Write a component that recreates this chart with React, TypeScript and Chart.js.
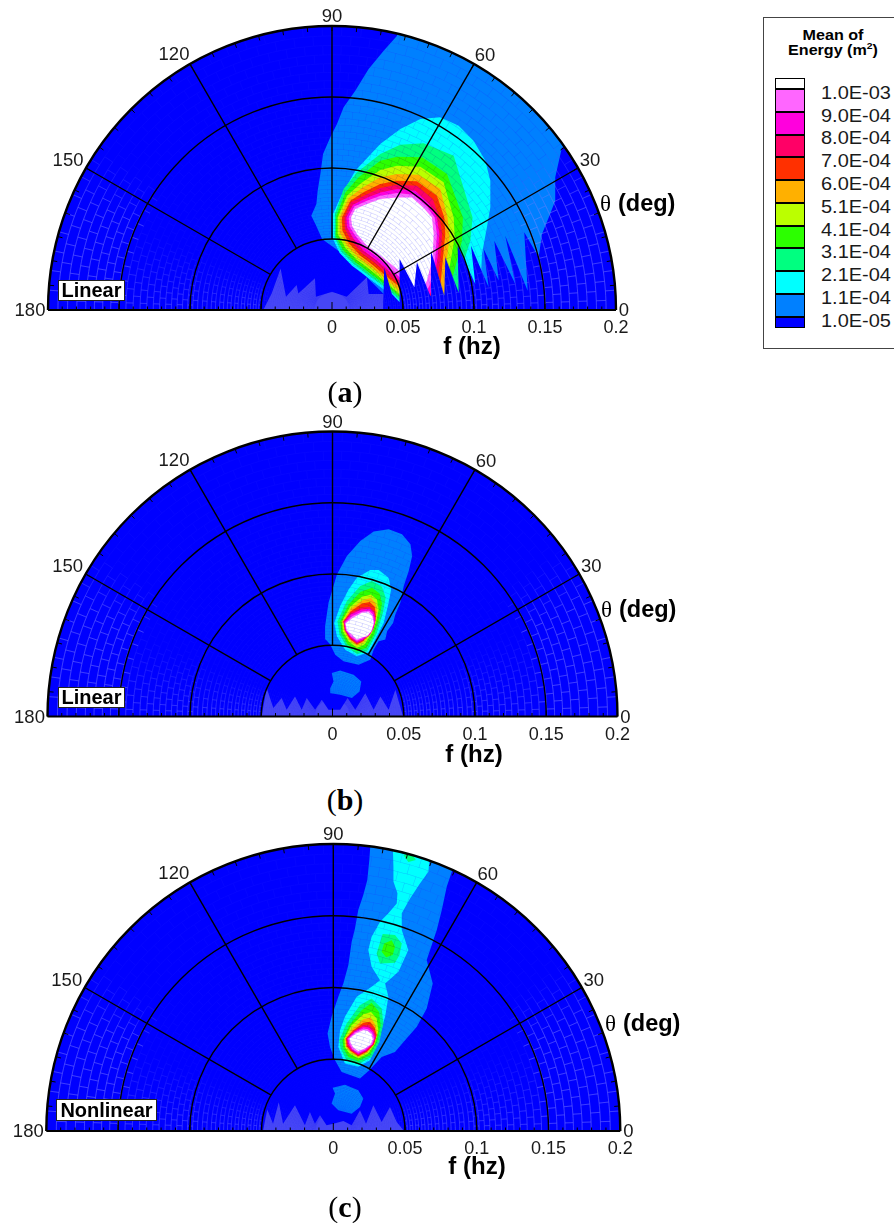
import React, { useEffect, useRef } from "react";
import { Chart, registerables } from "chart.js";

Chart.register(...registerables);

type P = [number, number];

// Contour outlines: [fx, fy] in mHz (fx = f cos(theta), fy = f sin(theta))
const levelColors = ["#0000ff", "#0080ff", "#00ffff", "#00ff80", "#2cff00", "#bbff00", "#ffb000", "#ff3000", "#ff0066", "#ff00dd", "#ff66ff", "#ffffff"];
const legendLabels = ["1.0E-03", "9.0E-04", "8.0E-04", "7.0E-04", "6.0E-04", "5.1E-04", "4.1E-04", "3.1E-04", "2.1E-04", "1.1E-04", "1.0E-05"];
const fTickLabels = ["0", "0.05", "0.1", "0.15", "0.2"];
const angleLabels = ["0", "30", "60", "90", "120", "150", "180"];

const aFringe: P[] = [[-48.4,0],[-42.5,11.7],[-36.2,29.3],[-32.4,9.4],[-24.9,17.6],[-23.7,11.7],[-12,22.3],[-11.3,9.4],[0,12.9],[10.3,9.4],[24.6,23],[25.8,11.3],[36.4,11.3],[41,6.6],[49.8,0]];
const aL1: P[] = [[45.8,193.2],[36.4,182.6],[25.8,169.7],[16.4,154.4],[8.2,142.7],[3.5,131],[-1.2,121.6],[-6.3,109.8],[-8.2,95.8],[-10.1,84],[-11,74.6],[-14.6,66.4],[-11.7,60.6],[-7,50],[5.9,40.6],[16.4,31.2],[25.8,21.8],[36.4,11.3],[48.1,5.4],[57.5,0],[205,0],[205,210],[46,210]];
const aL2: P[] = [[0.7,67.6],[5.9,79.3],[16.4,98.1],[34,116.9],[48.1,127.4],[62.2,134.5],[76.3,135.7],[89.2,129.8],[99.7,119.2],[108,105.1],[111.5,91.1],[111.5,72.3],[109.1,58.2],[105.6,39.4],[104.4,11.3],[49.8,3.1],[43.9,8.4],[35.9,14.8],[23.5,24.2],[14.1,31.2],[5.4,40.1],[0.7,50]];
const aL3: P[] = [[2.1,67.6],[8.2,85.2],[17.6,96.9],[34,109.8],[48.1,116.4],[64.5,117.4],[85.7,108.7],[99,65.2],[97.4,48.8],[91.5,30],[90.4,11.3],[49.3,5.4],[44.6,10.1],[36.8,16.4],[24.6,25.3],[15.3,32.4],[6.3,41.3],[1.9,51.2]];
const aL4: P[] = [[3.1,66.4],[9.4,82.8],[18.8,93.4],[34,105.1],[45.8,108],[63.4,107.5],[81,95.8],[92.2,65.2],[91.5,48.8],[86.8,30],[81,8.9],[50.5,6.6],[45.3,11.3],[37.8,17.8],[25.8,26.5],[16.4,33.6],[7.7,42.2],[2.6,52.3]];
const aL5: P[] = [[4,65.2],[10.6,80.5],[20.4,89.2],[34,98.6],[45.8,101.6],[62.2,100.9],[78.6,89.9],[85.7,65.2],[86.4,51.2],[82.8,30],[79.1,10.1],[51.6,6.6],[46.2,12.4],[38.7,18.8],[27,28.2],[17.6,35.2],[9.4,43.7],[4,53.5]];
const aL6: P[] = [[5.4,65.2],[11.7,78.9],[21.8,86.4],[34,93.4],[45.8,95.8],[61,95.3],[76.3,85.2],[81.4,65.2],[82.8,51.2],[80.5,32.4],[79.1,10.1],[52.8,6.6],[47.2,13.6],[39.7,20.2],[28.2,29.6],[18.8,36.6],[10.6,45.3],[5.4,54.7]];
const aL7: P[] = [[7,65.2],[12.9,77],[22.8,83.3],[34,88.7],[45.8,91.1],[59.8,90.6],[73.9,80.5],[79.1,65.2],[79.8,53.5],[78.2,37.1],[76.3,16],[69.2,6.6],[54,7.7],[48.1,16],[40.6,21.8],[29.3,31.2],[19.9,38.3],[12,46.9],[7.3,55.9]];
const aL8: P[] = [[8.7,65.2],[13.4,75.8],[23.5,81],[34,85.9],[45.8,88.2],[59.8,87.5],[70.9,78.2],[75.8,65.2],[77.5,53.5],[76.3,37.1],[73.9,16],[69.2,6.6],[55.2,8.9],[49.3,17.1],[41.5,23],[30.5,32.9],[21.1,39.9],[13.4,48.8],[9.2,57]];
const aL9: P[] = [[10.1,65.2],[14.8,74.2],[24.2,78.9],[34,82.8],[45.8,85.2],[58.7,84],[68.5,74.6],[73.9,65.2],[75.6,53.5],[74.4,37.1],[71.1,16],[68.1,8.9],[56.3,11.3],[50.5,18.3],[43,24.9],[31.7,34.7],[22.3,41.8],[14.8,50.7],[10.6,58.2]];
const aL10: P[] = [[11.7,65.2],[15.7,72.8],[24.6,77],[34,80.5],[45.8,82.4],[57.5,81.2],[66.9,72.8],[72.3,65.2],[73.9,53.5],[72.8,37.1],[69.2,18.3],[64.5,8.9],[56.3,13.6],[51.6,19.5],[43.9,26.5],[32.9,36.6],[23.5,43.7],[16.4,52.3],[12.4,58.7]];
const aL11: P[] = [[13.4,65.2],[16.4,71.1],[24.6,74.6],[34,78.2],[45.8,79.3],[56.3,79.3],[64.5,71.8],[70.4,65.2],[71.6,53.5],[70.9,37.1],[66.9,20.7],[62.2,11.3],[57.5,16],[54,21.8],[45.8,28.9],[34,38.3],[24.6,45.3],[17.6,53.5],[14.1,59.4]];
const aNotch: P[] = [[35.9,0],[36.8,30],[42.2,11.3],[47.6,5.4],[47.6,35.9],[58,16],[59.8,33.6],[69.2,10.1],[69.7,41.8],[79.1,10.1],[79.8,37.1],[89.2,12.4],[88.5,45.3],[100.9,18.3],[97.9,45.3],[110.3,16],[106.8,43],[117.4,20.7],[114.3,48.8],[129.1,18.3],[122,52.3],[137.8,13.6],[135.4,54.7],[145.5,37.1],[147.9,53.5],[152.6,65.2],[157.2,77],[157.2,93.4],[161.9,114.5],[205,114.5],[205,0]];

const bFringe: P[] = [[-49.8,0],[-46.2,20],[-41.5,5.9],[-35.7,12.9],[-32.2,4.7],[-26.3,14.1],[-21.6,4.7],[-18.1,12.9],[-12.2,4.7],[-7.5,11.7],[-2.8,4.7],[5.4,4.7],[10.6,12.9],[16,4.7],[23,16.4],[28.9,4.7],[33.6,14.1],[39.4,4.7],[44.1,18.8],[49.5,0]];
const bL1: P[] = [[-4.7,54],[-5.2,63.4],[-2.8,79.8],[3.1,99.7],[10.1,112.7],[19.5,123.2],[28.9,129.8],[39.4,131.4],[48.8,127.9],[54.7,120.9],[55.9,112.7],[53.5,102.1],[50,91.5],[47.6,79.8],[44.1,71.6],[42.5,65.7],[38.3,59.8],[37.1,54],[32.4,52.8],[28.9,46.9],[26.5,39.9],[18.3,36.4],[7.7,38.7],[1.9,43.4],[-1.6,50.5]];
const bBlob: P[] = [[-0.5,30.5],[5.4,32.2],[14.8,29.3],[20.2,24.6],[19,17.6],[13.6,12.9],[5.4,15.3],[-1.2,16.4],[-1.6,19.9],[0.7,24.6]];
const bL2: P[] = [[1.2,65.7],[5.4,77.5],[11.3,89.2],[17.1,97.4],[26.5,102.8],[32.4,102.8],[39.4,97.4],[41.1,89.2],[39.4,79.8],[35.9,65.7],[31.2,56.3],[25.3,45.1],[17.1,42.2],[8.9,46.9],[3.1,56.3]];
const bL3: P[] = [[3.5,66.9],[10.1,81],[19.5,91.5],[27.7,95.1],[34.7,91.1],[37.3,83.3],[35.4,72.8],[31.2,58.7],[24.2,45.8],[17.1,43.9],[10.1,48.8],[4.9,57.5]];
const bL4: P[] = [[5.4,66.9],[11.3,78.6],[19.5,87.3],[27.7,90.4],[33.1,86.4],[34.7,79.3],[33.1,69.9],[29.3,57.5],[23.7,48.1],[17.1,45.8],[10.6,50.5],[6.1,58.7]];
const bL5: P[] = [[6.6,66.9],[12.4,77],[20.7,84],[27,85.7],[31.2,82.1],[32.4,75.1],[30.7,66.9],[27.7,58.7],[22.5,50.5],[17.1,48.1],[11.3,52.8],[7.3,59.8]];
const bL6: P[] = [[7.3,66.9],[12.9,75.6],[21.4,81.7],[27,83.1],[30.3,79.3],[31.2,73.9],[29.8,65.7],[27,58.7],[21.8,52.1],[17.1,49.8],[11.7,54],[8.2,60.6]];
const bL7: P[] = [[7.8,66.9],[12.9,73.9],[20.7,79.3],[26.1,80.3],[29.6,77],[30.5,70.4],[28.9,64.5],[26.5,58.7],[21.4,52.8],[17.1,50.5],[12,54.5],[8.7,60.6]];
const bL8: P[] = [[7.8,66.9],[12.9,72.8],[20.2,76.3],[26.1,77],[29.3,73.9],[30.3,68.1],[28.9,62.2],[26.1,57.5],[21.4,53.5],[17.1,51.2],[12,55.2],[8.7,60.6]];
const bL9: P[] = [[8.2,66.2],[12.9,71.6],[20.2,75.1],[26.1,75.6],[29.1,72.8],[30,66.9],[28.4,61],[25.6,56.8],[21.4,54],[17.1,52.1],[12.4,55.9],[9.2,60.6]];
const bL10: P[] = [[8.7,65.7],[13.6,70.4],[20.7,73.7],[25.8,74.2],[28.4,71.6],[29.3,66.2],[27.7,60.6],[24.9,56.8],[21.1,54.9],[17.1,53.1],[12.9,56.3],[9.6,60.6]];
const bL11: P[] = [[9.2,65.2],[14.1,69.2],[20.7,72.8],[25.3,73.2],[27.9,70.4],[28.9,65.2],[27.2,59.8],[24.2,56.3],[20.7,55.6],[17.1,54],[13.6,57.5],[10.1,60.6]];

const cFringe: P[] = [[-49,0],[-46,15],[-42,5],[-38,20],[-35,5],[-26.7,17.9],[-19.8,4],[-16.3,13.3],[-12.8,5.1],[-9.3,10.9],[-4.7,4],[0,5.1],[7,7],[12.8,4],[18.6,14.4],[22.8,5.1],[27.9,17.9],[33.7,6.3],[39.5,16.7],[44.2,6.3],[49.3,0]];
const cL1: P[] = [[26.1,202.8],[25.1,188.9],[23.7,174.9],[20.9,164.5],[17.4,154],[15.1,141.2],[12.8,131.9],[10.5,115.6],[7,102.8],[3.5,93.5],[-1.2,79.6],[-4,67.9],[-2.3,58.6],[1.2,49.3],[5.8,41.2],[18.6,36.5],[25.1,42.3],[33.7,51.6],[43,55.1],[50,63.3],[58.2,72.6],[65.1,85.4],[69.3,102.8],[65.1,119.1],[72.1,140],[75.6,154],[79.1,170.3],[82.6,180.7],[86.1,188.9]];
const cBlob: P[] = [[-0.5,30.2],[8.1,32.3],[17.4,28.4],[20.9,22.6],[18.6,16.7],[12.8,12.1],[3.5,14.4],[-1.2,19.1],[1.2,26.1]];
const cL2: P[] = [[41.4,200.5],[41.9,184.2],[41.9,173.8],[44.7,165.6],[44.2,158.6],[38.4,151.7],[32.6,145.8],[26.7,135.4],[24.4,126.1],[26.7,114.4],[32.6,105.1],[26.7,100.5],[16.3,93.5],[8.1,79.6],[4.7,70.2],[3.5,58.6],[8.1,47],[17.4,44.7],[25.6,49.3],[30.2,60.9],[36.1,79.6],[38.4,93.5],[36.1,102.8],[45.4,111],[52.3,126.1],[47.7,140],[47.7,151.7],[53.5,162.1],[60.5,172.6],[66.3,180.7],[67.5,195.8]];
const cTopL3: P[] = [[48.8,192.4],[54.7,193.5],[57.5,188.9],[52.3,187.5]];
const cMidL3: P[] = [[30.2,123.7],[34.4,137.2],[43,136.5],[47.7,130.7],[46.1,122.6],[43,117.2],[32.6,116.8]];
const cMidL4: P[] = [[35.4,130.7],[40.7,133],[43,128.4],[41.4,122.6],[36.8,121],[33.7,124.9]];
const cL3: P[] = [[4.2,63.3],[9.3,74.9],[18.6,87.7],[26.7,92.3],[33.7,85.4],[34.9,74.9],[32.1,62.1],[26.7,51.6],[17.4,46.5],[9.3,49.3],[5.1,57.5]];
const cL4: P[] = [[6.5,63.3],[11.2,73.7],[19.8,84.2],[26.7,89.3],[31.9,83],[33,73.7],[30.7,62.6],[25.6,52.8],[17.4,48.8],[10.5,51.6],[7,57.5]];
const cL5: P[] = [[7.7,64.4],[12.8,73.7],[20.9,81.4],[26.3,83],[30.2,78.4],[31.4,70.2],[29.1,60.9],[24.4,54],[17.4,50.5],[11.2,54],[8.1,58.6]];
const cL6: P[] = [[8.4,64.4],[13.5,71.4],[20.9,77.9],[26.1,79.1],[29.1,74.4],[30.5,67.9],[28.6,60.9],[23.7,54.9],[17.4,51.6],[11.6,55.4],[8.8,59.1]];
const cL7: P[] = [[8.8,64.4],[14,70.2],[20.9,75.4],[25.6,76.1],[28.8,72.1],[30.2,66.8],[28.4,60.5],[23.7,55.4],[17.4,52.1],[12.1,55.8],[9.3,59.1]];
const cL8: P[] = [[9.3,64.4],[14.4,69.8],[20.9,73.7],[25.1,73.7],[28.4,70.2],[29.8,65.6],[27.9,60.5],[23.3,55.8],[17.4,52.8],[12.3,56.3],[9.8,59.8]];
const cL9: P[] = [[9.8,64.4],[14.9,69.3],[20.9,72.6],[24.7,72.1],[27.9,69.1],[29.1,65.1],[27.4,60.5],[22.8,56.3],[17.4,53.5],[12.8,56.8],[10.5,60.5]];
const cL10: P[] = [[10.5,64.4],[15.4,68.9],[20.9,71.4],[24.2,70.9],[27.2,68.4],[28.4,64.4],[27,60.5],[22.3,56.8],[17.4,54.4],[13.3,57.2],[11.2,60.9]];
const cL11: P[] = [[11.4,64.4],[15.8,67.9],[20.9,70.2],[23.7,69.8],[26.5,67.5],[27.4,64],[26.1,60.5],[21.9,57.5],[17.4,55.8],[14,58.2],[12.1,61.4]];

type Layer = { color: number; fill?: string; pts: P[] };
const FRINGE = "#4646f6";

const panelALayers: Layer[] = [
  { color: 0, fill: FRINGE, pts: aFringe }, { color: 1, pts: aL1 }, { color: 2, pts: aL2 }, { color: 3, pts: aL3 }, { color: 4, pts: aL4 }, { color: 5, pts: aL5 },
  { color: 6, pts: aL6 }, { color: 7, pts: aL7 }, { color: 8, pts: aL8 }, { color: 9, pts: aL9 }, { color: 10, pts: aL10 }, { color: 11, pts: aL11 }, { color: 0, pts: aNotch },
];
const panelBLayers: Layer[] = [
  { color: 0, fill: FRINGE, pts: bFringe }, { color: 1, pts: bL1 }, { color: 1, pts: bBlob }, { color: 2, pts: bL2 }, { color: 3, pts: bL3 }, { color: 4, pts: bL4 }, { color: 5, pts: bL5 },
  { color: 6, pts: bL6 }, { color: 7, pts: bL7 }, { color: 8, pts: bL8 }, { color: 9, pts: bL9 }, { color: 10, pts: bL10 }, { color: 11, pts: bL11 },
];
const panelCLayers: Layer[] = [
  { color: 0, fill: FRINGE, pts: cFringe }, { color: 1, pts: cL1 }, { color: 1, pts: cBlob }, { color: 2, pts: cL2 }, { color: 3, pts: cTopL3 }, { color: 3, pts: cMidL3 }, { color: 4, pts: cMidL4 },
  { color: 3, pts: cL3 }, { color: 4, pts: cL4 }, { color: 5, pts: cL5 }, { color: 6, pts: cL6 }, { color: 7, pts: cL7 }, { color: 8, pts: cL8 }, { color: 9, pts: cL9 }, { color: 10, pts: cL10 }, { color: 11, pts: cL11 },
];

const ARIAL = '"Liberation Sans", Arial, sans-serif';
const SERIF = '"Liberation Serif", "Times New Roman", serif';
// label offset from the end of each spoke, in px: [dx, dy]
const angleOffsets = [[8, 1], [12, -7], [11, -8], [0, -9], [-16, -9], [-18, -7], [-18, 1]];
const CANVAS_W = 700;
const CANVAS_H = 372;

type Panel = {
  layers: Layer[]; top: number; cx: number; base: number; R: number; tag: string;
  tagBox: [number, number, number, number]; thetaX: number; thetaY: number; fX: number; fY: number;
};

const panels: Panel[] = [
  { layers: panelALayers, top: 0, cx: 332, base: 310, R: 284, tag: "Linear", tagBox: [58, 280, 67, 21], thetaX: 600, thetaY: 205, fX: 472, fY: 347 },
  { layers: panelBLayers, top: 405, cx: 332.5, base: 716.5, R: 285, tag: "Linear", tagBox: [58, 687, 67, 21], thetaX: 601, thetaY: 611, fX: 474, fY: 755 },
  { layers: panelCLayers, top: 820, cx: 333.3, base: 1131, R: 287, tag: "Nonlinear", tagBox: [56, 1099, 101, 22], thetaX: 605, thetaY: 1025, fX: 477, fY: 1167 },
];

function clamp01(v: number) {
  return Math.max(0, Math.min(1, v));
}

function meshAlpha(deg: number, frac: number) {
  const t = Math.min(deg, 180 - deg);
  if (frac > 0.75) return 0.05 + 0.5 * clamp01((36 - t) / 12);
  if (frac > 0.25) return 0.05 + 0.42 * clamp01(1 - t / 24);
  return 0.03 + 0.1 * clamp01(1 - t / 30);
}

function drawMesh(ctx: CanvasRenderingContext2D, x0: number, y0: number, R: number) {
  ctx.save();
  const rings: number[] = [];
  for (let r = 1; r > 0.06; r *= 0.965) rings.push(r * R);
  const step = 2;
  const pass = (multiply: boolean) => {
    ctx.globalCompositeOperation = multiply ? "multiply" : "source-over";
    ctx.strokeStyle = multiply ? "rgb(130,130,255)" : "rgb(175,175,255)";
    ctx.lineWidth = multiply ? 0.5 : 0.7;
    for (let i = 0; i < rings.length; i++) {
      const frac = rings[i] / R;
      for (let j = 0; j < 90; j++) {
        const a0 = (j * step * Math.PI) / 180;
        const a1 = ((j + 1) * step * Math.PI) / 180;
        ctx.globalAlpha = multiply ? 0.4 : meshAlpha(j * step, frac);
        ctx.beginPath();
        ctx.arc(x0, y0, rings[i], -a1, -a0);
        ctx.stroke();
        const dense = frac < 0.5 && j % 2 === 1;
        if (i + 1 < rings.length && (i + j) % 2 === 0 && !dense) {
          ctx.beginPath();
          ctx.moveTo(x0 + rings[i] * Math.cos(a0), y0 - rings[i] * Math.sin(a0));
          ctx.lineTo(x0 + rings[i + 1] * Math.cos(a0), y0 - rings[i + 1] * Math.sin(a0));
          ctx.stroke();
        }
      }
    }
  };
  pass(false);
  pass(true);
  ctx.restore();
}

function makePlugin(p: Panel) {
  return {
    id: "polarFrame",
    beforeDatasetsDraw(chart: any) {
      const { ctx, scales } = chart;
      const x0 = scales.x.getPixelForValue(0);
      const y0 = scales.y.getPixelForValue(0);
      const R = scales.x.getPixelForValue(0.2) - x0;
      ctx.save();
      ctx.beginPath();
      ctx.arc(x0, y0, R, Math.PI, 0);
      ctx.closePath();
      ctx.fillStyle = levelColors[0];
      ctx.fill();
      ctx.clip();
    },
    afterDatasetsDraw(chart: any) {
      const { ctx, scales } = chart;
      ctx.restore();
      const x0 = scales.x.getPixelForValue(0);
      const y0 = scales.y.getPixelForValue(0);
      const R = scales.x.getPixelForValue(0.2) - x0;
      ctx.save();
      ctx.beginPath();
      ctx.arc(x0, y0, R, Math.PI, 0);
      ctx.closePath();
      ctx.clip();
      drawMesh(ctx, x0, y0, R);
      ctx.restore();

      ctx.save();
      ctx.strokeStyle = "#000";
      // circular grid
      ctx.lineWidth = 1.4;
      [0.05, 0.1, 0.15].forEach((f) => {
        ctx.beginPath();
        ctx.arc(x0, y0, (R * f) / 0.2, Math.PI, 0);
        ctx.stroke();
      });
      // spokes
      [30, 60, 90, 120, 150].forEach((deg) => {
        const a = (deg * Math.PI) / 180;
        ctx.beginPath();
        ctx.moveTo(x0 + (R / 4) * Math.cos(a), y0 - (R / 4) * Math.sin(a));
        ctx.lineTo(x0 + R * Math.cos(a), y0 - R * Math.sin(a));
        ctx.stroke();
      });
      // rim ticks every 5 degrees
      ctx.lineWidth = 1;
      for (let deg = 5; deg < 180; deg += 5) {
        const a = (deg * Math.PI) / 180;
        ctx.beginPath();
        ctx.moveTo(x0 + (R - 5) * Math.cos(a), y0 - (R - 5) * Math.sin(a));
        ctx.lineTo(x0 + R * Math.cos(a), y0 - R * Math.sin(a));
        ctx.stroke();
      }
      // base ticks every 0.01 hz
      for (let k = -20; k <= 20; k++) {
        const x = scales.x.getPixelForValue(k / 100);
        const len = k === 0 ? 8 : k % 5 === 0 ? 6 : 3.5;
        ctx.beginPath();
        ctx.moveTo(x, y0);
        ctx.lineTo(x, y0 - len);
        ctx.stroke();
      }
      // frame
      ctx.lineWidth = 2.4;
      ctx.beginPath();
      ctx.arc(x0, y0, R, Math.PI, 0);
      ctx.stroke();
      ctx.lineWidth = 2;
      ctx.beginPath();
      ctx.moveTo(x0 - R, y0);
      ctx.lineTo(x0 + R, y0);
      ctx.stroke();
      ctx.restore();

      // angle labels
      ctx.save();
      ctx.fillStyle = "#1a1a1a";
      ctx.font = `18.5px ${ARIAL}`;
      ctx.textAlign = "center";
      ctx.textBaseline = "middle";
      angleLabels.forEach((t, i) => {
        const a = (Number(t) * Math.PI) / 180;
        ctx.fillText(t, x0 + R * Math.cos(a) + angleOffsets[i][0], y0 - R * Math.sin(a) + angleOffsets[i][1]);
      });
      // theta (deg)
      ctx.textAlign = "left";
      ctx.fillStyle = "#000";
      ctx.font = `23px ${SERIF}`;
      const ty = p.thetaY - p.top;
      ctx.fillText("\u03b8", p.thetaX, ty);
      ctx.font = `bold 23.5px ${ARIAL}`;
      ctx.fillText("(deg)", p.thetaX + 18, ty);
      // f (hz)
      ctx.textAlign = "center";
      ctx.font = `bold 24px ${ARIAL}`;
      ctx.fillText("f (hz)", p.fX, p.fY - p.top);
      // tag box
      const [bx, by, bw, bh] = p.tagBox;
      ctx.fillStyle = "#fff";
      ctx.fillRect(bx, by - p.top, bw, bh);
      ctx.strokeStyle = "#222";
      ctx.lineWidth = 1;
      ctx.strokeRect(bx + 0.5, by - p.top + 0.5, bw - 1, bh - 1);
      ctx.fillStyle = "#000";
      ctx.font = `bold 20px ${ARIAL}`;
      ctx.fillText(p.tag, bx + bw / 2, by - p.top + bh / 2 + 1);
      ctx.restore();
    },
  };
}

function PolarPanel({ panel }: { panel: Panel }) {
  const ref = useRef<HTMLCanvasElement>(null);
  useEffect(() => {
    if (!ref.current) return;
    const n = panel.layers.length;
    const chart = new Chart(ref.current, {
      type: "scatter",
      data: {
        datasets: panel.layers.map((l, i) => ({
          data: l.pts.map(([x, y]) => ({ x: x / 1000, y: y / 1000 })),
          showLine: true,
          fill: "shape",
          backgroundColor: l.fill ?? levelColors[l.color],
          borderWidth: 0,
          pointRadius: 0,
          order: n - i,
        })),
      } as any,
      options: {
        responsive: false,
        animation: false,
        events: [],
        layout: {
          autoPadding: false,
          padding: {
            left: panel.cx - panel.R,
            right: CANVAS_W - panel.cx - panel.R,
            top: panel.base - panel.top - panel.R,
            bottom: CANVAS_H - (panel.base - panel.top) - 30,
          },
        },
        plugins: { legend: { display: false }, tooltip: { enabled: false } },
        scales: {
          x: {
            type: "linear",
            min: -0.2,
            max: 0.2,
            afterFit(scale: any) {
              scale.height = 30;
            },
            grid: { display: false, drawTicks: false },
            border: { display: false },
            ticks: {
              stepSize: 0.05,
              autoSkip: false,
              maxRotation: 0,
              padding: 7.5,
              color: "#1a1a1a",
              font: { family: ARIAL, size: 18 },
              callback: (_v: any, index: number) => fTickLabels[index - 4] ?? "",
            },
          },
          y: { type: "linear", min: 0, max: 0.2, display: false },
        },
      } as any,
      plugins: [makePlugin(panel)],
    });
    return () => chart.destroy();
  }, [panel]);
  return (
    <canvas
      ref={ref}
      width={CANVAS_W}
      height={CANVAS_H}
      style={{ position: "absolute", left: 0, top: panel.top, width: CANVAS_W, height: CANVAS_H }}
    />
  );
}

function Legend() {
  const rows = [...levelColors].reverse();
  const top = 78;
  const full = 22.75;
  const end = 11.2;
  let y = top;
  const swatches = rows.map((c, i) => {
    const h = i === 0 || i === rows.length - 1 ? end : full;
    const el = (
      <div key={c} style={{ position: "absolute", left: 775, top: y, width: 30, height: h, background: c, border: "1px solid #000", boxSizing: "border-box" }} />
    );
    y += h;
    return el;
  });
  return (
    <>
      <div style={{ position: "absolute", left: 763, top: 16.5, width: 160, height: 332, border: "1px solid #444", boxSizing: "border-box" }} />
      <div style={{ position: "absolute", left: 763, width: 140, top: 27.5, textAlign: "center", font: `bold 14px/15.5px ${ARIAL}`, color: "#000", transform: "scaleX(1.15)", transformOrigin: "70px 0" }}>
        <div>Mean of</div>
        <div>
          Energy (m<sup style={{ fontSize: 9, lineHeight: 0 }}>2</sup>)
        </div>
      </div>
      {swatches}
      {legendLabels.map((t, i) => (
        <div key={t} style={{ position: "absolute", left: 821, top: 92.7 + i * 22.8 - 11, height: 22, font: `18.5px/22px ${ARIAL}`, color: "#1a1a1a", transformOrigin: "left center", transform: "scaleX(1.08)", whiteSpace: "nowrap" }}>
          {t}
        </div>
      ))}
    </>
  );
}

function Caption({ letter, y }: { letter: string; y: number }) {
  return (
    <div style={{ position: "absolute", left: 245, width: 200, top: y - 16, textAlign: "center", font: `30px/32px ${SERIF}`, color: "#000" }}>
      (<b>{letter}</b>)
    </div>
  );
}

export default function App() {
  return (
    <div style={{ position: "absolute", left: 0, top: 0, width: 894, height: 1223, overflow: "hidden", background: "#fff" }}>
      {panels.map((p) => (
        <PolarPanel key={p.top} panel={p} />
      ))}
      <Caption letter="a" y={392} />
      <Caption letter="b" y={800} />
      <Caption letter="c" y={1207} />
      <Legend />
    </div>
  );
}
